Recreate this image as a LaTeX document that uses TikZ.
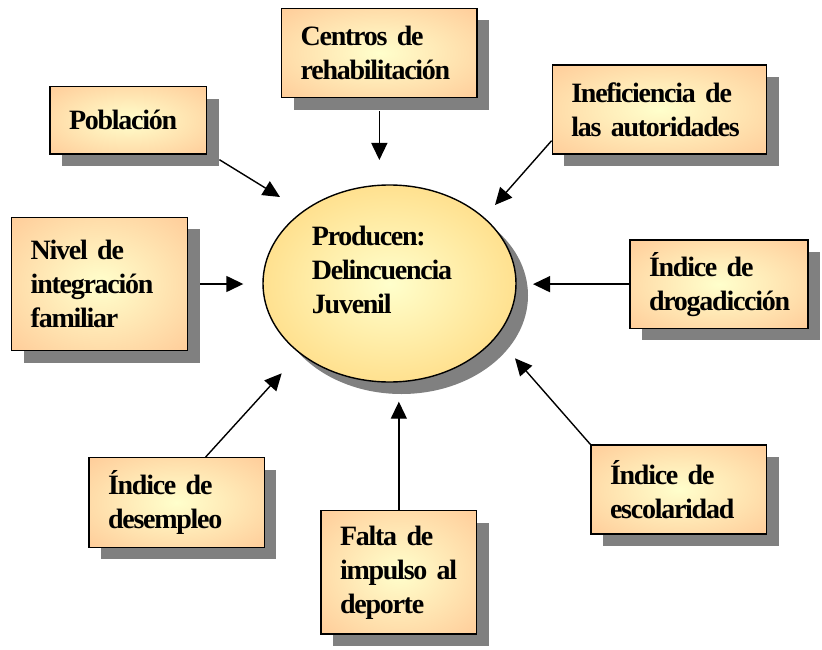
\documentclass[tikz,border=0pt]{standalone}
\usepackage{fontspec}
\setmainfont{Liberation Serif}
\newfontfamily\tightfont[LetterSpace=-4.5,WordSpace=0.6]{Liberation Serif}
\usetikzlibrary{shapes.geometric,arrows.meta,shadows}
\definecolor{boxout}{HTML}{FFCC99}
\definecolor{boxin}{HTML}{FFFFCC}
\definecolor{ellout}{HTML}{FFCC66}
\definecolor{ellin}{HTML}{FFFFCC}
\definecolor{shadowgray}{HTML}{808080}
\pgfdeclareradialshading{boxshade}{\pgfpoint{0bp}{0bp}}{color(0bp)=(boxin); color(36bp)=(boxout); color(72bp)=(boxout)}
\pgfdeclareradialshading{ellshade}{\pgfpoint{0bp}{0bp}}{color(0bp)=(ellin); color(42bp)=(ellout); color(72bp)=(ellout)}
\newcommand\mynohyph{\hyphenpenalty=10000\relax\exhyphenpenalty=10000\relax}
\begin{document}
\begin{tikzpicture}[x=1pt,y=-1pt,
  txtfont/.style={font=\tightfont\fontsize{28}{34}\selectfont\bfseries\mynohyph},
  shadowed/.style={drop shadow={shadow xshift=12pt,shadow yshift=-12pt,fill=shadowgray,opacity=1}},
  box/.style={rectangle, draw=black, line width=1.4pt, shading=boxshade, shadowed,
    inner xsep=19pt, inner ysep=0pt, align=left, txtfont},
  ell/.style={ellipse, draw=black, line width=1.4pt, shading=ellshade, shadowed,
    minimum width=253pt, minimum height=197pt, inner sep=0pt},
  lbl/.style={inner sep=0pt, align=left, txtfont},
  arr/.style={line width=1.4pt, -{Triangle[length=17pt,width=16pt]}}]
\useasboundingbox (0,0) rectangle (822,650);

% centre
\node[ell] (delin) at (389.5,283.5) {};
\node[lbl] (delintxt) at (382,270) {Producen:\\Delincuencia\\Juvenil};

% boxes
\node[box, minimum height=67.3pt, text width=118.7pt] (pob) at (128.35,120.35) {Población};
\node[box, minimum height=89.4pt, text width=157.3pt] (cent) at (379.35,53) {Centros de\\rehabilitación};
\node[box, minimum height=89pt, text width=176.4pt] (inef) at (659.5,109.5) {Ineficiencia de\\las autoridades};
\node[box, minimum height=133.4pt, text width=138pt] (nivel) at (99.7,284) {Nivel de\\integración\\familiar};
\node[box, minimum height=88.3pt, text width=140pt] (drog) at (719,284.15) {Índice de\\drogadicción};
\node[box, minimum height=89.6pt, text width=137.3pt] (des) at (176.65,502.5) {Índice de\\desempleo};
\node[box, minimum height=123.3pt, text width=117.7pt] (falta) at (398.85,572.35) {Falta de\\impulso al\\deporte};
\node[box, minimum height=89pt, text width=137.7pt] (esc) at (678.85,489.5) {Índice de\\escolaridad};

% arrow tips
\coordinate (t1) at (280,197);
\coordinate (t2) at (379.35,160);
\coordinate (t3) at (495,205);
\coordinate (t4) at (243.3,284);
\coordinate (t5) at (533,284.15);
\coordinate (t6) at (281.7,373.3);
\coordinate (t7) at (398.85,401.7);
\coordinate (t8) at (515,358.3);

% connectors
\draw[arr] ([xshift=12pt,yshift=-5pt]pob.south east) -- (t1);
\draw[arr] ([yshift=-13pt]cent.south) -- (t2);
\draw[arr] ([yshift=14pt]inef.south west) -- (t3);
\draw[arr] ([xshift=12pt]nivel.east) -- (t4);
\draw[arr] (drog.west) -- (t5);
\draw[arr] ([xshift=29pt]des.north) -- (t6);
\draw[arr] (falta.north) -- (t7);
\draw[arr] (esc.north west) -- (t8);
\end{tikzpicture}
\end{document}
